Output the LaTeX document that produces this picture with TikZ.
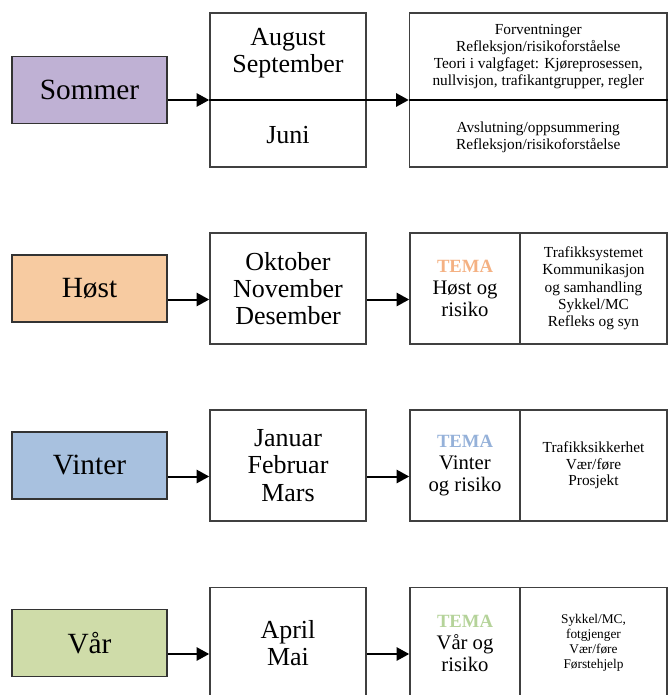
\documentclass[tikz,border=0pt]{standalone}
\usepackage{fontspec}
\setmainfont{Liberation Serif}
\usetikzlibrary{arrows.meta}
\definecolor{sommerfarge}{HTML}{BFB1D4}
\definecolor{hostfarge}{HTML}{F7CBA1}
\definecolor{vinterfarge}{HTML}{A8C1DF}
\definecolor{varfarge}{HTML}{CFDCA9}
\definecolor{temahost}{HTML}{F4B183}
\definecolor{temavinter}{HTML}{95B1D9}
\definecolor{temavar}{HTML}{B5D39A}
\newcommand{\temaord}[1]{{\fontsize{14}{16}\selectfont\bfseries\color{#1}TEMA}}
\begin{document}
\begin{tikzpicture}[x=0.75pt,y=-0.75pt,
  season/.style={draw=black!80,line width=1.2pt,minimum width=116.25pt,minimum height=50pt,inner sep=0pt,font=\fontsize{22}{24}\selectfont},
  month/.style={draw=black!75,line width=1.2pt,minimum width=117pt,minimum height=83.25pt,inner sep=0pt,align=center,font=\fontsize{19.5}{20.5}\selectfont},
  mtext/.style={align=center,inner sep=0pt,font=\fontsize{19.5}{20.5}\selectfont},
  temacell/.style={draw=black!75,line width=1.2pt,minimum width=82.5pt,minimum height=83.25pt,inner sep=0pt,align=center,font=\fontsize{15.5}{16.5}\selectfont},
  listcell/.style={draw=black!75,line width=1.2pt,minimum width=110.25pt,minimum height=83.25pt,inner sep=0pt,align=center,font=\fontsize{11.5}{13}\selectfont},
  list/.style={align=center,inner sep=0pt,font=\fontsize{11.5}{12.75}\selectfont},
  pil/.style={-{Triangle[length=9.5pt,width=10pt]},line width=1.5pt}]
\clip (0,0) rectangle (668,695);

\draw (89.5,90) node[season,fill=sommerfarge] (sommer) {Sommer};
\draw (288,90) node[month,minimum height=115.5pt] (mnd1) {};
\draw (538.25,90) node[month,minimum width=193.1pt,minimum height=115.5pt] (innh1) {};
\draw (288,53) node[mtext] (aug) {August\\September};
\draw (288,135) node[mtext] (juni) {Juni};
\draw (538.25,57) node[list] (forv) {Forventninger\\Refleksjon/risikoforståelse\\Teori i valgfaget: Kjøreprosessen,\\nullvisjon, trafikantgrupper, regler};
\draw (538.25,137) node[list] (avsl) {Avslutning/oppsummering\\Refleksjon/risikoforståelse};
\draw[pil] ([yshift=-7.5pt]sommer.east) -- ([yshift=-7.5pt]mnd1.west);
\draw[line width=1.5pt] ([yshift=-7.5pt]mnd1.west) -- ([yshift=-7.5pt]mnd1.east);
\draw[pil] ([yshift=-7.5pt]mnd1.east) -- ([yshift=-7.5pt]innh1.west);
\draw[line width=1.5pt] ([yshift=-7.5pt]innh1.west) -- ([yshift=-7.5pt]innh1.east);

\draw (89.5,288.5) node[season,fill=hostfarge] (host) {Høst};
\draw (288,288.5) node[month] (mnd2) {Oktober\\November\\Desember};
\draw (465,288.5) node[temacell] (tema2) {\temaord{temahost}\\Høst og\\risiko};
\draw (593.5,288.5) node[listcell] (innh2) {Trafikksystemet\\Kommunikasjon\\og samhandling\\Sykkel/MC\\Refleks og syn};
\draw[pil] ([yshift=-8.25pt]host.east) -- ([yshift=-8.25pt]mnd2.west);
\draw[pil] ([yshift=-8.25pt]mnd2.east) -- ([yshift=-8.25pt]tema2.west);

\draw (89.5,465.5) node[season,fill=vinterfarge] (vinter) {Vinter};
\draw (288,465.5) node[month] (mnd3) {Januar\\Februar\\Mars};
\draw (465,465.5) node[temacell] (tema3) {\temaord{temavinter}\\Vinter\\og risiko};
\draw (593.5,465.5) node[listcell,font=\fontsize{11.5}{12.5}\selectfont] (innh3) {Trafikksikkerhet\\Vær/føre\\Prosjekt};
\draw[pil] ([yshift=-8.25pt]vinter.east) -- ([yshift=-8.25pt]mnd3.west);
\draw[pil] ([yshift=-8.25pt]mnd3.east) -- ([yshift=-8.25pt]tema3.west);

\draw (89.5,643) node[season,fill=varfarge] (var) {Vår};
\draw (288,643) node[month] (mnd4) {April\\Mai};
\draw (465,643) node[temacell] (tema4) {\temaord{temavar}\\Vår og\\risiko};
\draw (593.5,643) node[listcell,font=\fontsize{10}{11.25}\selectfont] (innh4) {Sykkel/MC,\\fotgjenger\\Vær/føre\\Førstehjelp};
\draw[pil] ([yshift=-8.25pt]var.east) -- ([yshift=-8.25pt]mnd4.west);
\draw[pil] ([yshift=-8.25pt]mnd4.east) -- ([yshift=-8.25pt]tema4.west);
\end{tikzpicture}
\end{document}
